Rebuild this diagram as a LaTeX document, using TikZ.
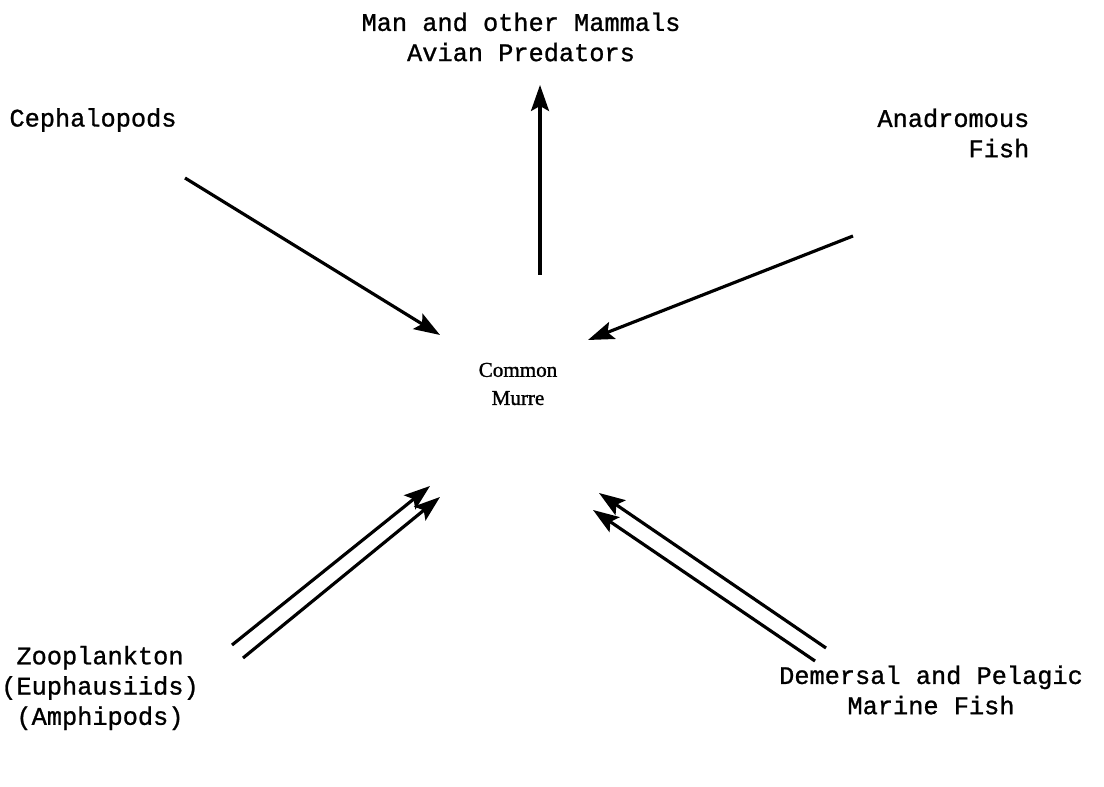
\documentclass[tikz,border=0pt]{standalone}
\usepackage{fontspec}
\setmonofont{Liberation Mono}[FakeBold=1]
\newfontfamily\murrefont{Liberation Serif}[FakeBold=1.2]
\usetikzlibrary{arrows.meta}

\begin{document}
\begin{tikzpicture}[
    every node/.style={font=\ttfamily\fontsize{7.2}{8.6}\selectfont, inner sep=0pt},
    taxon/.style={align=center},
    bird/.style={align=center, font=\murrefont\fontsize{6}{8}\selectfont},
    feed/.style={line width=0.9pt,
                 -{Stealth[length=2.6mm, width=1.8mm, inset=0.5mm]}},
]
\useasboundingbox (0,0) rectangle (11.04,7.86);

% ── Grupos ──
\node[bird] (murre) at (5.18,4.02) {Common\\Murre};
\node[taxon] (pred) at (5.21,7.49) {Man and other Mammals\\Avian Predators};
\node[taxon] (ceph) at (0.93,6.66) {Cephalopods};
\node[taxon, align=right, anchor=east] (anad) at (10.30,6.53) {Anadromous\\Fish};
\node[taxon] (zoo) at (1.00,0.98) {Zooplankton\\(Euphausiids)\\(Amphipods)};
\node[taxon] (dem) at (9.31,0.96) {Demersal and Pelagic\\Marine Fish};

% ── Extremos de las flechas ──
\coordinate (murre-n) at (5.40,5.11);
\coordinate (pred-s) at (5.40,7.01);
\coordinate (ceph-se) at (1.85,6.08);
\coordinate (murre-nw) at (4.40,4.51);
\coordinate (anad-sw) at (8.53,5.50);
\coordinate (murre-ne) at (5.88,4.46);
\coordinate (zoo-a) at (2.32,1.41);
\coordinate (zoo-b) at (2.43,1.28);
\coordinate (murre-sw-a) at (4.30,3.00);
\coordinate (murre-sw-b) at (4.40,2.89);
\coordinate (dem-a) at (8.26,1.38);
\coordinate (dem-b) at (8.15,1.25);
\coordinate (murre-se-a) at (5.99,2.93);
\coordinate (murre-se-b) at (5.93,2.76);

% ── Flechas ──
% depredadores
\draw[feed] (murre-n) -- (pred-s);
% presas simples
\draw[feed] (ceph-se) -- (murre-nw);
\draw[feed] (anad-sw) -- (murre-ne);
% presas principales (flecha doble)
\draw[feed] (zoo-a) -- (murre-sw-a);
\draw[feed] (zoo-b) -- (murre-sw-b);
\draw[feed] (dem-a) -- (murre-se-a);
\draw[feed] (dem-b) -- (murre-se-b);
\end{tikzpicture}
\end{document}
